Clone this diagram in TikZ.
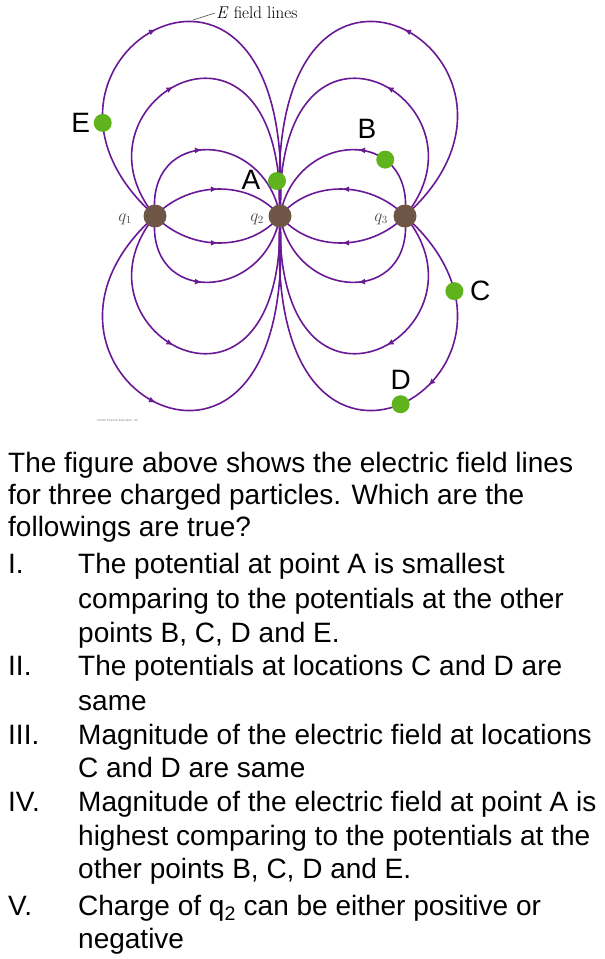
\documentclass[tikz,border=0pt]{standalone}
\usepackage{fontspec}
\setmainfont{Liberation Sans}
\newfontfamily\serif{Latin Modern Roman}
\usetikzlibrary{decorations.markings,arrows.meta,positioning}
\definecolor{fl}{RGB}{105,25,150}
\definecolor{chg}{RGB}{110,85,70}
\definecolor{pt}{RGB}{95,180,30}
\begin{document}
\begin{tikzpicture}[x=1pt,y=-1pt,
  fline/.style={fl,line width=1.6pt},
  arr/.style={postaction={decorate},decoration={markings,mark=at position #1 with {\arrow{Latex[length=7pt,width=6pt]}}}},
  charge/.style={circle,fill=chg,minimum size=23pt,inner sep=0},
  gpt/.style={circle,fill=pt,minimum size=18pt,inner sep=0},
  lab/.style={font=\fontsize{28}{28}\selectfont},
  qlab/.style={font=\serif\itshape\fontsize{16}{16}\selectfont,text=black!70},
  txt/.style={anchor=base west,inner sep=0,font=\fontsize{28}{28}\selectfont}]
\useasboundingbox (0,0) rectangle (605,959);
\coordinate (q1) at (155,216);
\coordinate (q2) at (280,216);
\coordinate (q3) at (405,216);
% left top
\draw[fline,arr=0.5] (q1) .. controls (190,180) and (250,180) .. (q2);
\draw[fline,arr=0.45] (q1) .. controls (145,125) and (265,130) .. (q2);
\draw[fline,arr=0.42] (q1) .. controls (60,100) and (285,-25) .. (q2);
\draw[fline,arr=0.45] (q1) .. controls (-20,60) and (300,-130) .. coordinate[pos=0.2] (eP) (q2);
% left bottom
\draw[fline,arr=0.5] (q1) .. controls (190,252) and (250,252) .. (q2);
\draw[fline,arr=0.45] (q1) .. controls (145,307) and (265,302) .. (q2);
\draw[fline,arr=0.42] (q1) .. controls (60,332) and (285,457) .. (q2);
\draw[fline,arr=0.45] (q1) .. controls (-20,372) and (300,562) .. (q2);
% right top
\draw[fline,arr=0.5] (q3) .. controls (370,180) and (310,180) .. (q2);
\draw[fline,arr=0.45] (q3) .. controls (415,125) and (295,130) .. coordinate[pos=0.3] (bP) (q2);
\draw[fline,arr=0.42] (q3) .. controls (500,100) and (275,-25) .. (q2);
\draw[fline,arr=0.45] (q3) .. controls (580,60) and (260,-130) .. (q2);
% right bottom
\draw[fline,arr=0.5] (q3) .. controls (370,252) and (310,252) .. (q2);
\draw[fline,arr=0.45] (q3) .. controls (415,307) and (295,302) .. (q2);
\draw[fline,arr=0.42] (q3) .. controls (500,332) and (275,457) .. (q2);
\draw[fline,arr=0.39] (q3) .. controls (580,372) and (260,562) .. coordinate[pos=0.16] (cP) coordinate[pos=0.5] (dP) (q2);
% charges
\node[charge] (n1) at (q1) {};
\node[charge] (n2) at (q2) {};
\node[charge] (n3) at (q3) {};
\node[qlab] at (125,219) {$q_1$};
\node[qlab] at (257,219) {$q_2$};
\node[qlab] at (381,219) {$q_3$};
% points
\node[gpt] (A) at (277,181) {};
\node[gpt] (B) at (bP) {};
\node[gpt] (C) at (cP) {};
\node[gpt] (D) at (dP) {};
\node[gpt] (E) at (eP) {};
\node[lab,left=0pt of E] {E};
\node[lab] at (251,180) {A};
\node[lab] at (367,129) {B};
\node[lab,right=3pt of C] {C};
\node[lab,above=2pt of D] {D};
% label
\coordinate (l1) at (193,20);
\coordinate (l2) at (215,13);
\draw[black!70,line width=0.6pt] (l1) -- (l2);
\node[anchor=west,inner sep=1pt,font=\serif\fontsize{17}{17}\selectfont] (fl) at (l2) {\textit{E} field lines};
\node[font=\fontsize{3}{3}\selectfont,text=black!50] (cp) at (118,421) {\textcopyright 2010 Pearson Education, Inc.};
% text
\node[txt] (t1) at (8,472) {The figure above shows the electric field lines};
\node[txt] (t2) at (8,504) {for three charged particles. Which are the};
\node[txt] (t3) at (8,536) {followings are true?};
\node[txt] (r1) at (8,573) {I.};
\node[txt] (s1) at (78,573) {The potential at point A is smallest};
\node[txt] (s1b) at (78,608) {comparing to the potentials at the other};
\node[txt] (s1c) at (78,642) {points B, C, D and E.};
\node[txt] (r2) at (8,675) {II.};
\node[txt] (s2) at (78,675) {The potentials at locations C and D are};
\node[txt] (s2b) at (78,710) {same};
\node[txt] (r3) at (8,744) {III.};
\node[txt] (s3) at (78,744) {Magnitude of the electric field at locations};
\node[txt] (s3b) at (78,777) {C and D are same};
\node[txt] (r4) at (8,811) {IV.};
\node[txt] (s4) at (78,811) {Magnitude of the electric field at point A is};
\node[txt] (s4b) at (78,845) {highest comparing to the potentials at the};
\node[txt] (s4c) at (78,878) {other points B, C, D and E.};
\node[txt] (r5) at (8,915) {V.};
\node[txt] (s5) at (78,915) {Charge of q\textsubscript{2} can be either positive or};
\node[txt] (s5b) at (78,948) {negative};
\end{tikzpicture}
\end{document}
